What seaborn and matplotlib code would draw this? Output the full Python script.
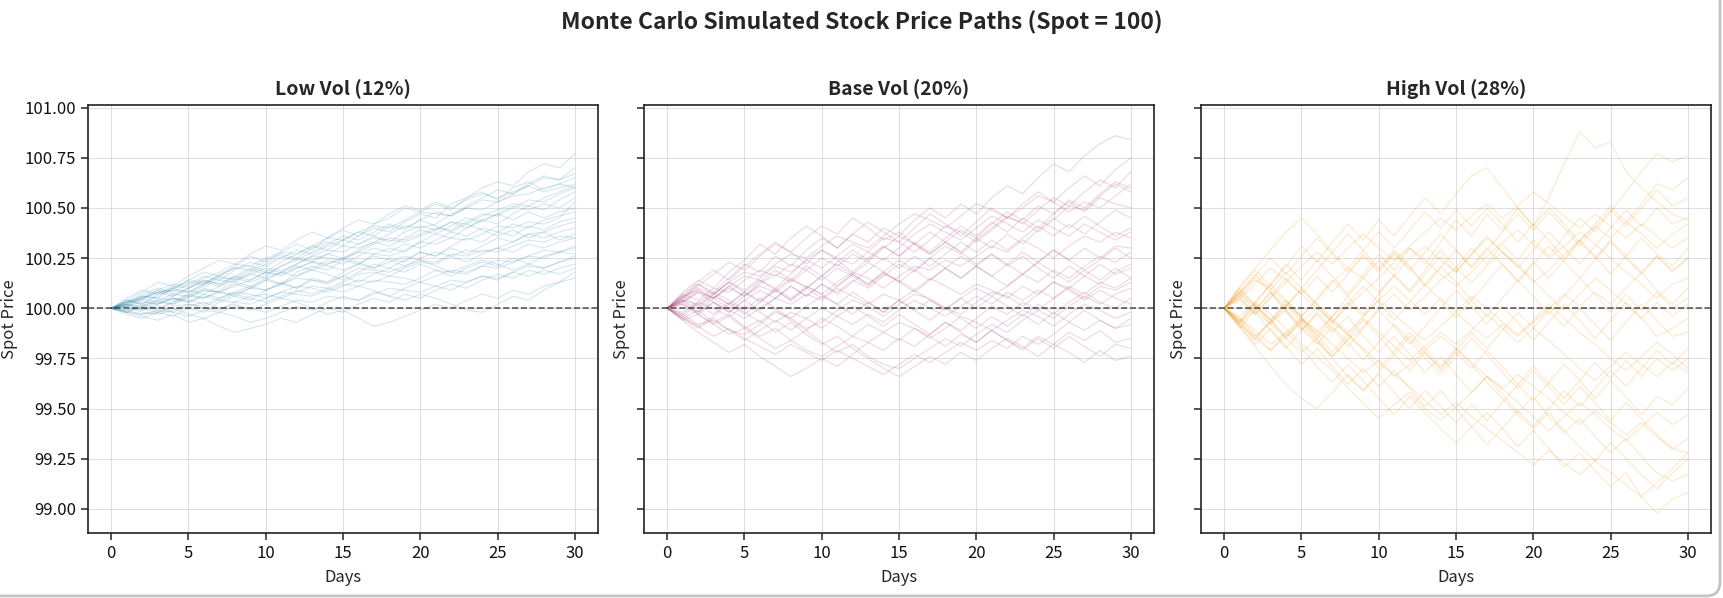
import matplotlib
matplotlib.use("Agg")
import matplotlib.pyplot as plt
from matplotlib.patches import FancyBboxPatch
from matplotlib.transforms import IdentityTransform
import pandas as pd
import seaborn as sns

# ---------------- data ----------------
SPOT = 100.0
DAYS = list(range(31))
PANEL_TITLES = ["Low Vol (12%)", "Base Vol (20%)", "High Vol (28%)"]
SUPTITLE = "Monte Carlo Simulated Stock Price Paths (Spot = 100)"
COLORS = ["#2E86AB", "#A23B72", "#F18F01"]
Y_TICKS = [99.00, 99.25, 99.50, 99.75, 100.00, 100.25, 100.50, 100.75, 101.00]
X_TICKS = [0, 5, 10, 15, 20, 25, 30]

LOW_VOL_PATHS = [
    [100.00, 100.03, 100.06, 100.05, 100.10, 100.13, 100.12, 100.17, 100.20, 100.19, 100.24, 100.27, 100.25, 100.30, 100.33, 100.31, 100.36, 100.40, 100.38, 100.43, 100.47, 100.45, 100.52, 100.55, 100.60, 100.63, 100.61, 100.68, 100.72, 100.70, 100.77],
    [100.00, 100.04, 100.02, 100.07, 100.09, 100.14, 100.18, 100.16, 100.21, 100.26, 100.23, 100.28, 100.32, 100.29, 100.35, 100.39, 100.36, 100.42, 100.45, 100.50, 100.48, 100.52, 100.49, 100.55, 100.58, 100.54, 100.60, 100.63, 100.59, 100.62, 100.65],
    [100.00, 99.98, 100.01, 100.04, 100.02, 100.06, 100.05, 100.09, 100.13, 100.11, 100.15, 100.12, 100.18, 100.21, 100.19, 100.24, 100.22, 100.27, 100.30, 100.28, 100.33, 100.37, 100.35, 100.40, 100.44, 100.42, 100.47, 100.51, 100.49, 100.54, 100.58],
    [100.00, 99.97, 99.95, 99.98, 99.96, 100.00, 99.98, 100.03, 100.06, 100.04, 100.09, 100.12, 100.10, 100.15, 100.13, 100.18, 100.22, 100.20, 100.25, 100.23, 100.28, 100.26, 100.31, 100.35, 100.33, 100.38, 100.36, 100.41, 100.39, 100.43, 100.45],
    [100.00, 99.98, 99.96, 99.94, 99.97, 99.93, 99.95, 99.91, 99.88, 99.90, 99.92, 99.95, 99.93, 99.97, 100.00, 99.98, 100.02, 100.05, 100.03, 100.07, 100.05, 100.09, 100.12, 100.10, 100.14, 100.17, 100.15, 100.19, 100.17, 100.20, 100.22],
    [100.00, 100.02, 99.99, 100.01, 99.98, 100.01, 100.03, 100.00, 100.02, 99.99, 100.02, 100.05, 100.03, 100.00, 99.97, 99.99, 99.95, 99.91, 99.93, 99.96, 99.99, 100.02, 100.00, 100.04, 100.07, 100.05, 100.09, 100.07, 100.11, 100.13, 100.15],
    [100.00, 100.05, 100.09, 100.07, 100.11, 100.10, 100.14, 100.12, 100.16, 100.14, 100.18, 100.16, 100.20, 100.23, 100.21, 100.19, 100.22, 100.26, 100.24, 100.21, 100.25, 100.28, 100.26, 100.23, 100.27, 100.30, 100.28, 100.32, 100.30, 100.33, 100.35],
    [100.00, 100.03, 100.07, 100.10, 100.08, 100.12, 100.16, 100.14, 100.19, 100.23, 100.21, 100.25, 100.29, 100.27, 100.31, 100.34, 100.32, 100.36, 100.33, 100.38, 100.41, 100.39, 100.43, 100.40, 100.44, 100.47, 100.44, 100.48, 100.45, 100.48, 100.50],
    [100.00, 100.01, 100.04, 100.02, 100.05, 100.03, 100.07, 100.05, 100.08, 100.11, 100.09, 100.13, 100.10, 100.14, 100.12, 100.16, 100.13, 100.17, 100.20, 100.18, 100.22, 100.19, 100.16, 100.20, 100.23, 100.21, 100.25, 100.22, 100.26, 100.28, 100.30],
    [100.00, 100.04, 100.08, 100.13, 100.11, 100.16, 100.20, 100.24, 100.22, 100.27, 100.31, 100.29, 100.34, 100.38, 100.35, 100.40, 100.44, 100.42, 100.47, 100.51, 100.49, 100.53, 100.50, 100.54, 100.57, 100.55, 100.58, 100.61, 100.58, 100.60, 100.62],
    [100.00, 99.99, 100.02, 100.00, 100.03, 100.07, 100.05, 100.08, 100.06, 100.10, 100.14, 100.12, 100.16, 100.19, 100.17, 100.14, 100.18, 100.22, 100.20, 100.24, 100.28, 100.26, 100.30, 100.27, 100.31, 100.35, 100.33, 100.37, 100.35, 100.38, 100.40],
    [100.00, 100.02, 100.00, 99.98, 100.00, 99.97, 99.95, 99.98, 99.96, 99.93, 99.95, 99.98, 100.01, 99.99, 100.03, 100.06, 100.04, 100.08, 100.06, 100.10, 100.13, 100.11, 100.09, 100.13, 100.16, 100.14, 100.18, 100.16, 100.19, 100.17, 100.20],
    [100.00, 100.02, 100.05, 100.03, 100.06, 100.09, 100.07, 100.11, 100.15, 100.19, 100.17, 100.21, 100.25, 100.23, 100.27, 100.25, 100.29, 100.33, 100.31, 100.35, 100.39, 100.37, 100.41, 100.45, 100.43, 100.47, 100.51, 100.49, 100.52, 100.50, 100.55],
    [100.00, 100.03, 100.06, 100.09, 100.07, 100.10, 100.13, 100.11, 100.14, 100.17, 100.15, 100.18, 100.21, 100.19, 100.22, 100.25, 100.23, 100.20, 100.23, 100.26, 100.24, 100.21, 100.18, 100.21, 100.24, 100.22, 100.19, 100.22, 100.20, 100.23, 100.25],
    [100.00, 100.02, 100.05, 100.08, 100.06, 100.10, 100.14, 100.12, 100.16, 100.20, 100.18, 100.23, 100.27, 100.31, 100.29, 100.34, 100.38, 100.36, 100.41, 100.39, 100.44, 100.48, 100.46, 100.51, 100.55, 100.59, 100.57, 100.62, 100.66, 100.64, 100.70],
    [100.00, 100.01, 99.99, 100.02, 100.05, 100.03, 100.06, 100.04, 100.07, 100.05, 100.03, 100.06, 100.09, 100.07, 100.10, 100.08, 100.11, 100.09, 100.06, 100.04, 100.07, 100.05, 100.02, 99.99, 99.98, 100.02, 100.06, 100.04, 100.09, 100.13, 100.18],
    [100.00, 99.98, 100.01, 99.99, 100.03, 100.06, 100.10, 100.08, 100.12, 100.10, 100.14, 100.18, 100.16, 100.20, 100.24, 100.22, 100.26, 100.30, 100.28, 100.32, 100.30, 100.34, 100.38, 100.36, 100.40, 100.38, 100.42, 100.40, 100.44, 100.46, 100.48],
    [100.00, 100.04, 100.02, 100.06, 100.10, 100.08, 100.12, 100.16, 100.14, 100.18, 100.22, 100.26, 100.24, 100.28, 100.32, 100.36, 100.34, 100.38, 100.42, 100.40, 100.44, 100.41, 100.38, 100.42, 100.39, 100.36, 100.39, 100.35, 100.38, 100.34, 100.37],
    [100.00, 100.01, 100.05, 100.08, 100.09, 100.08, 100.12, 100.15, 100.15, 100.13, 100.16, 100.21, 100.24, 100.24, 100.27, 100.31, 100.30, 100.33, 100.37, 100.41, 100.40, 100.42, 100.47, 100.50, 100.49, 100.53, 100.56, 100.57, 100.60, 100.62, 100.60],
    [100.00, 99.99, 99.97, 99.98, 100.01, 100.02, 100.00, 99.99, 100.03, 100.06, 100.07, 100.05, 100.08, 100.11, 100.10, 100.13, 100.17, 100.18, 100.16, 100.20, 100.23, 100.22, 100.26, 100.29, 100.28, 100.30, 100.33, 100.37, 100.38, 100.41, 100.43],
    [100.00, 100.03, 100.04, 100.08, 100.10, 100.14, 100.13, 100.16, 100.20, 100.21, 100.19, 100.18, 100.22, 100.26, 100.29, 100.28, 100.32, 100.35, 100.34, 100.33, 100.36, 100.39, 100.43, 100.42, 100.46, 100.49, 100.52, 100.51, 100.55, 100.58, 100.61],
    [100.00, 100.01, 99.98, 99.97, 99.99, 100.02, 100.01, 100.04, 100.03, 100.02, 100.05, 100.08, 100.07, 100.06, 100.09, 100.12, 100.11, 100.14, 100.13, 100.12, 100.15, 100.19, 100.18, 100.17, 100.21, 100.24, 100.23, 100.26, 100.29, 100.28, 100.31],
    [100.00, 100.02, 100.06, 100.05, 100.04, 100.07, 100.11, 100.14, 100.13, 100.17, 100.20, 100.19, 100.22, 100.26, 100.25, 100.24, 100.28, 100.32, 100.35, 100.34, 100.37, 100.40, 100.39, 100.43, 100.47, 100.46, 100.50, 100.54, 100.53, 100.57, 100.60],
    [100.00, 99.99, 100.00, 100.03, 100.02, 100.05, 100.09, 100.08, 100.07, 100.10, 100.09, 100.12, 100.15, 100.14, 100.13, 100.16, 100.20, 100.19, 100.18, 100.21, 100.24, 100.23, 100.27, 100.26, 100.29, 100.28, 100.31, 100.34, 100.33, 100.36, 100.35],
    [100.00, 100.03, 100.05, 100.09, 100.12, 100.11, 100.15, 100.18, 100.22, 100.21, 100.25, 100.28, 100.27, 100.31, 100.35, 100.34, 100.38, 100.41, 100.40, 100.44, 100.48, 100.47, 100.46, 100.50, 100.54, 100.53, 100.57, 100.61, 100.65, 100.64, 100.67],
    [100.00, 99.98, 99.97, 99.99, 99.98, 99.96, 99.99, 99.98, 100.01, 100.00, 99.98, 100.01, 100.04, 100.03, 100.06, 100.05, 100.04, 100.07, 100.10, 100.09, 100.08, 100.11, 100.14, 100.13, 100.16, 100.15, 100.18, 100.21, 100.20, 100.23, 100.26],
    [100.00, 100.02, 100.01, 100.04, 100.07, 100.06, 100.09, 100.08, 100.11, 100.14, 100.18, 100.17, 100.20, 100.23, 100.22, 100.25, 100.28, 100.27, 100.26, 100.29, 100.33, 100.32, 100.35, 100.34, 100.37, 100.41, 100.40, 100.43, 100.42, 100.45, 100.53],
    [100.00, 100.01, 100.03, 100.02, 100.05, 100.04, 100.02, 100.05, 100.08, 100.07, 100.05, 100.08, 100.11, 100.10, 100.08, 100.11, 100.14, 100.13, 100.16, 100.15, 100.13, 100.16, 100.19, 100.18, 100.21, 100.20, 100.23, 100.26, 100.25, 100.28, 100.27],
]

BASE_VOL_PATHS = [
    [100.00, 100.05, 100.12, 100.08, 100.15, 100.22, 100.18, 100.26, 100.21, 100.29, 100.35, 100.30, 100.37, 100.33, 100.40, 100.36, 100.44, 100.50, 100.45, 100.52, 100.47, 100.55, 100.61, 100.57, 100.65, 100.72, 100.68, 100.76, 100.82, 100.86, 100.84],
    [100.00, 100.08, 100.14, 100.10, 100.18, 100.24, 100.32, 100.27, 100.35, 100.41, 100.36, 100.30, 100.37, 100.43, 100.38, 100.33, 100.40, 100.47, 100.42, 100.36, 100.43, 100.50, 100.45, 100.52, 100.58, 100.53, 100.60, 100.66, 100.61, 100.69, 100.75],
    [100.00, 100.04, 99.98, 100.05, 100.11, 100.06, 100.13, 100.19, 100.14, 100.21, 100.16, 100.23, 100.29, 100.24, 100.31, 100.26, 100.33, 100.28, 100.35, 100.41, 100.36, 100.43, 100.38, 100.45, 100.40, 100.47, 100.53, 100.48, 100.55, 100.52, 100.50],
    [100.00, 99.94, 99.88, 99.83, 99.78, 99.82, 99.76, 99.71, 99.66, 99.70, 99.75, 99.71, 99.77, 99.83, 99.79, 99.85, 99.81, 99.87, 99.93, 99.89, 99.95, 100.01, 99.97, 100.03, 99.99, 100.05, 100.11, 100.07, 100.13, 100.10, 100.15],
    [100.00, 100.03, 99.97, 99.92, 99.96, 99.90, 99.94, 99.88, 99.93, 99.87, 99.82, 99.86, 99.80, 99.75, 99.70, 99.66, 99.71, 99.76, 99.72, 99.78, 99.74, 99.80, 99.85, 99.81, 99.76, 99.82, 99.78, 99.73, 99.79, 99.74, 99.76],
    [100.00, 99.96, 100.02, 99.97, 100.03, 99.98, 99.93, 99.99, 99.94, 99.89, 99.95, 99.91, 99.86, 99.92, 99.88, 99.84, 99.90, 99.86, 99.81, 99.87, 99.83, 99.89, 99.84, 99.80, 99.86, 99.82, 99.88, 99.84, 99.89, 99.83, 99.85],
    [100.00, 100.06, 100.01, 100.07, 100.13, 100.08, 100.03, 100.09, 100.15, 100.10, 100.16, 100.11, 100.17, 100.23, 100.18, 100.13, 100.19, 100.14, 100.20, 100.26, 100.21, 100.16, 100.22, 100.28, 100.23, 100.29, 100.24, 100.19, 100.24, 100.30, 100.25],
    [100.00, 99.97, 100.03, 100.08, 100.04, 99.99, 100.05, 100.00, 99.95, 100.01, 100.06, 100.02, 99.97, 100.03, 99.98, 100.04, 100.09, 100.04, 99.99, 100.05, 100.00, 100.06, 100.01, 99.96, 100.02, 99.97, 100.03, 100.08, 100.03, 100.00, 100.05],
    [100.00, 100.07, 100.13, 100.19, 100.14, 100.21, 100.27, 100.33, 100.28, 100.22, 100.29, 100.24, 100.18, 100.25, 100.31, 100.26, 100.32, 100.38, 100.33, 100.28, 100.35, 100.30, 100.37, 100.32, 100.39, 100.45, 100.40, 100.46, 100.41, 100.36, 100.40],
    [100.00, 99.95, 99.99, 99.93, 99.97, 99.91, 99.86, 99.90, 99.84, 99.89, 99.83, 99.78, 99.82, 99.76, 99.72, 99.70, 99.75, 99.80, 99.85, 99.81, 99.87, 99.92, 99.88, 99.94, 99.99, 99.95, 100.01, 100.06, 100.02, 100.07, 100.10],
    [100.00, 100.04, 100.09, 100.05, 100.10, 100.06, 100.12, 100.17, 100.13, 100.19, 100.25, 100.21, 100.27, 100.23, 100.30, 100.36, 100.32, 100.27, 100.33, 100.39, 100.35, 100.42, 100.48, 100.44, 100.51, 100.47, 100.54, 100.50, 100.57, 100.63, 100.60],
    [100.00, 100.05, 100.11, 100.17, 100.23, 100.19, 100.26, 100.32, 100.28, 100.35, 100.41, 100.37, 100.45, 100.40, 100.34, 100.38, 100.32, 100.27, 100.33, 100.28, 100.22, 100.27, 100.21, 100.26, 100.20, 100.15, 100.21, 100.16, 100.22, 100.17, 100.20],
    [100.00, 100.04, 100.00, 100.06, 100.02, 100.08, 100.04, 100.10, 100.05, 100.11, 100.07, 100.02, 100.08, 100.03, 99.98, 100.04, 99.99, 99.94, 100.00, 99.95, 99.90, 99.96, 99.91, 99.97, 99.92, 99.98, 99.93, 99.99, 99.94, 99.90, 99.95],
    [100.00, 99.96, 99.91, 99.96, 100.02, 99.97, 100.03, 100.09, 100.04, 100.10, 100.05, 100.11, 100.17, 100.12, 100.18, 100.24, 100.19, 100.25, 100.20, 100.15, 100.21, 100.27, 100.22, 100.17, 100.23, 100.29, 100.24, 100.30, 100.25, 100.31, 100.30],
    [100.00, 100.02, 99.97, 100.03, 99.98, 100.04, 100.09, 100.05, 100.11, 100.06, 100.12, 100.08, 100.14, 100.10, 100.16, 100.22, 100.18, 100.25, 100.31, 100.27, 100.34, 100.40, 100.46, 100.42, 100.49, 100.55, 100.51, 100.58, 100.64, 100.60, 100.68],
    [100.00, 99.95, 99.90, 99.95, 99.89, 99.84, 99.89, 99.94, 99.89, 99.95, 99.90, 99.96, 100.01, 99.96, 99.91, 99.97, 99.92, 99.87, 99.93, 99.88, 99.83, 99.89, 99.84, 99.79, 99.85, 99.80, 99.86, 99.81, 99.76, 99.82, 99.80],
    [100.00, 100.06, 100.12, 100.07, 100.02, 100.08, 100.14, 100.09, 100.04, 100.10, 100.16, 100.22, 100.17, 100.12, 100.18, 100.13, 100.08, 100.14, 100.20, 100.15, 100.21, 100.16, 100.11, 100.17, 100.23, 100.18, 100.13, 100.19, 100.14, 100.20, 100.15],
    [100.00, 100.03, 100.08, 100.03, 99.98, 100.04, 99.99, 100.05, 100.11, 100.06, 100.12, 100.07, 100.13, 100.19, 100.25, 100.20, 100.26, 100.21, 100.27, 100.33, 100.28, 100.34, 100.29, 100.35, 100.41, 100.36, 100.42, 100.37, 100.43, 100.49, 100.45],
    [100.00, 100.06, 100.09, 100.05, 100.11, 100.16, 100.14, 100.10, 100.17, 100.24, 100.29, 100.25, 100.22, 100.28, 100.35, 100.33, 100.28, 100.34, 100.41, 100.38, 100.33, 100.39, 100.45, 100.43, 100.38, 100.44, 100.51, 100.49, 100.56, 100.62, 100.58],
    [100.00, 99.97, 99.92, 99.94, 99.89, 99.87, 99.92, 99.98, 99.95, 99.90, 99.93, 99.99, 100.04, 100.01, 99.96, 100.02, 100.07, 100.05, 100.00, 99.97, 100.03, 100.08, 100.06, 100.01, 100.07, 100.13, 100.10, 100.05, 100.11, 100.09, 100.13],
    [100.00, 100.04, 100.02, 100.07, 100.13, 100.18, 100.16, 100.22, 100.27, 100.25, 100.31, 100.36, 100.33, 100.30, 100.36, 100.42, 100.47, 100.44, 100.40, 100.46, 100.52, 100.49, 100.45, 100.50, 100.56, 100.53, 100.48, 100.53, 100.50, 100.56, 100.62],
    [100.00, 99.94, 99.97, 99.92, 99.87, 99.90, 99.85, 99.80, 99.84, 99.79, 99.76, 99.81, 99.86, 99.83, 99.88, 99.93, 99.90, 99.85, 99.90, 99.96, 99.93, 99.89, 99.94, 99.99, 99.96, 99.91, 99.97, 100.02, 99.99, 99.95, 99.98],
    [100.00, 100.03, 100.08, 100.05, 100.00, 100.06, 100.11, 100.08, 100.14, 100.11, 100.07, 100.13, 100.18, 100.15, 100.10, 100.16, 100.21, 100.19, 100.24, 100.21, 100.26, 100.31, 100.28, 100.34, 100.30, 100.25, 100.31, 100.36, 100.33, 100.38, 100.35],
    [100.00, 99.98, 100.03, 100.00, 99.96, 100.01, 99.98, 99.93, 99.98, 99.95, 100.00, 99.96, 99.92, 99.97, 99.93, 99.99, 100.04, 100.00, 99.96, 100.01, 100.06, 100.02, 100.08, 100.04, 100.09, 100.05, 100.10, 100.16, 100.12, 100.18, 100.22],
    [100.00, 100.07, 100.04, 100.10, 100.08, 100.14, 100.19, 100.16, 100.22, 100.19, 100.14, 100.20, 100.16, 100.11, 100.17, 100.14, 100.09, 100.15, 100.11, 100.07, 100.12, 100.09, 100.05, 100.11, 100.07, 100.13, 100.09, 100.04, 100.09, 100.05, 100.02],
    [100.00, 99.95, 99.91, 99.86, 99.90, 99.85, 99.81, 99.77, 99.82, 99.78, 99.74, 99.79, 99.75, 99.71, 99.67, 99.72, 99.77, 99.73, 99.78, 99.83, 99.79, 99.84, 99.80, 99.86, 99.82, 99.87, 99.93, 99.89, 99.94, 99.90, 99.92],
    [100.00, 100.05, 100.10, 100.07, 100.13, 100.09, 100.15, 100.21, 100.18, 100.24, 100.20, 100.26, 100.32, 100.28, 100.24, 100.30, 100.37, 100.42, 100.38, 100.34, 100.40, 100.46, 100.42, 100.38, 100.44, 100.40, 100.36, 100.42, 100.38, 100.34, 100.38],
    [100.00, 100.02, 99.98, 100.03, 99.99, 99.95, 100.00, 100.05, 100.02, 100.07, 100.04, 100.10, 100.06, 100.02, 100.07, 100.04, 99.99, 100.04, 100.00, 100.05, 100.10, 100.06, 100.11, 100.17, 100.13, 100.19, 100.15, 100.21, 100.26, 100.23, 100.28],
]

HIGH_VOL_PATHS = [
    [100.00, 100.09, 100.02, 100.12, 100.22, 100.14, 100.24, 100.16, 100.07, 100.17, 100.27, 100.19, 100.30, 100.22, 100.33, 100.44, 100.36, 100.47, 100.39, 100.50, 100.41, 100.55, 100.72, 100.88, 100.80, 100.83, 100.68, 100.60, 100.53, 100.47, 100.44],
    [100.00, 99.92, 100.02, 99.94, 100.04, 99.95, 99.86, 99.96, 100.06, 99.97, 100.07, 100.17, 100.09, 100.19, 100.29, 100.20, 100.30, 100.22, 100.32, 100.24, 100.34, 100.26, 100.36, 100.45, 100.38, 100.48, 100.58, 100.68, 100.77, 100.73, 100.76],
    [100.00, 100.10, 100.19, 100.11, 100.21, 100.31, 100.23, 100.33, 100.42, 100.34, 100.44, 100.36, 100.46, 100.55, 100.47, 100.57, 100.66, 100.70, 100.60, 100.50, 100.41, 100.50, 100.42, 100.33, 100.42, 100.51, 100.43, 100.52, 100.62, 100.59, 100.65],
    [100.00, 99.91, 99.82, 99.90, 99.81, 99.72, 99.80, 99.71, 99.62, 99.70, 99.61, 99.69, 99.60, 99.51, 99.59, 99.50, 99.41, 99.48, 99.40, 99.31, 99.39, 99.30, 99.21, 99.28, 99.19, 99.11, 99.18, 99.06, 98.98, 99.05, 99.08],
    [100.00, 100.08, 99.99, 100.08, 99.98, 99.89, 99.97, 99.88, 99.96, 99.86, 99.78, 99.86, 99.77, 99.68, 99.76, 99.67, 99.58, 99.66, 99.57, 99.48, 99.56, 99.46, 99.38, 99.45, 99.36, 99.28, 99.35, 99.26, 99.18, 99.14, 99.17],
    [100.00, 99.91, 99.81, 99.71, 99.62, 99.55, 99.50, 99.58, 99.67, 99.59, 99.68, 99.77, 99.69, 99.78, 99.70, 99.79, 99.88, 99.80, 99.89, 99.98, 99.90, 99.99, 99.91, 100.00, 99.92, 99.84, 99.93, 100.02, 99.94, 99.86, 99.88],
    [100.00, 100.07, 100.16, 100.25, 100.17, 100.26, 100.35, 100.27, 100.18, 100.27, 100.19, 100.28, 100.20, 100.11, 100.20, 100.29, 100.21, 100.30, 100.22, 100.13, 100.22, 100.31, 100.23, 100.15, 100.24, 100.33, 100.25, 100.17, 100.26, 100.18, 100.25],
    [100.00, 99.93, 100.02, 99.94, 99.85, 99.94, 99.85, 99.76, 99.85, 99.94, 99.86, 99.77, 99.86, 99.78, 99.69, 99.78, 99.70, 99.79, 99.71, 99.62, 99.71, 99.63, 99.72, 99.64, 99.55, 99.64, 99.56, 99.47, 99.56, 99.52, 99.60],
    [100.00, 100.10, 100.01, 99.92, 100.01, 100.10, 100.02, 99.93, 100.02, 100.11, 100.03, 99.94, 100.03, 100.12, 100.04, 99.95, 100.04, 99.96, 100.05, 100.14, 100.06, 99.97, 100.06, 100.15, 100.07, 99.98, 100.07, 99.99, 100.08, 100.00, 100.05],
    [100.00, 99.94, 100.03, 100.12, 100.04, 99.96, 100.05, 100.14, 100.06, 100.15, 100.24, 100.16, 100.08, 100.17, 100.26, 100.18, 100.27, 100.36, 100.28, 100.20, 100.29, 100.38, 100.30, 100.22, 100.31, 100.40, 100.49, 100.41, 100.50, 100.42, 100.45],
    [100.00, 99.95, 99.87, 99.79, 99.88, 99.80, 99.71, 99.63, 99.72, 99.64, 99.55, 99.47, 99.56, 99.48, 99.40, 99.33, 99.41, 99.32, 99.40, 99.49, 99.41, 99.50, 99.59, 99.51, 99.60, 99.69, 99.61, 99.70, 99.79, 99.72, 99.80],
    [100.00, 99.90, 99.99, 100.08, 99.99, 99.90, 99.82, 99.91, 99.83, 99.74, 99.83, 99.92, 99.84, 99.75, 99.67, 99.76, 99.85, 99.77, 99.68, 99.60, 99.69, 99.61, 99.52, 99.61, 99.53, 99.44, 99.53, 99.45, 99.37, 99.30, 99.35],
    [100.00, 100.11, 100.20, 100.29, 100.38, 100.45, 100.37, 100.28, 100.37, 100.29, 100.20, 100.29, 100.21, 100.12, 100.21, 100.13, 100.04, 100.13, 100.22, 100.14, 100.23, 100.15, 100.24, 100.33, 100.25, 100.34, 100.26, 100.35, 100.27, 100.21, 100.30],
    [100.00, 99.92, 99.84, 99.93, 100.02, 99.93, 99.84, 99.75, 99.66, 99.59, 99.67, 99.58, 99.50, 99.59, 99.51, 99.43, 99.52, 99.44, 99.53, 99.62, 99.54, 99.63, 99.55, 99.64, 99.73, 99.65, 99.74, 99.66, 99.75, 99.69, 99.75],
    [100.00, 100.08, 100.17, 100.09, 100.18, 100.10, 100.19, 100.28, 100.20, 100.29, 100.38, 100.30, 100.39, 100.48, 100.40, 100.49, 100.41, 100.50, 100.42, 100.33, 100.42, 100.34, 100.25, 100.34, 100.26, 100.17, 100.26, 100.18, 100.09, 100.02, 100.10],
    [100.00, 99.93, 99.85, 99.94, 99.86, 99.95, 99.87, 99.78, 99.87, 99.79, 99.70, 99.79, 99.88, 99.80, 99.71, 99.80, 99.72, 99.63, 99.55, 99.47, 99.40, 99.48, 99.39, 99.31, 99.24, 99.33, 99.25, 99.17, 99.10, 99.18, 99.25],
    [100.00, 100.06, 99.98, 99.89, 99.80, 99.89, 99.98, 99.90, 99.81, 99.90, 99.99, 99.91, 99.82, 99.91, 100.00, 100.09, 100.01, 99.92, 100.01, 99.93, 99.84, 99.93, 100.02, 99.94, 99.85, 99.94, 100.03, 99.95, 99.86, 99.90, 99.95],
    [100.00, 100.05, 99.97, 100.06, 100.15, 100.07, 100.16, 100.08, 100.17, 100.26, 100.18, 100.27, 100.19, 100.28, 100.37, 100.29, 100.20, 100.29, 100.38, 100.47, 100.39, 100.48, 100.40, 100.31, 100.40, 100.49, 100.41, 100.50, 100.59, 100.51, 100.55],
    [100.00, 100.06, 100.14, 100.10, 100.03, 99.96, 100.04, 100.13, 100.20, 100.15, 100.08, 100.16, 100.25, 100.31, 100.24, 100.18, 100.27, 100.35, 100.28, 100.22, 100.14, 100.06, 99.99, 100.07, 100.15, 100.09, 100.02, 99.95, 100.03, 99.96, 100.02],
    [100.00, 99.94, 99.86, 99.93, 99.99, 99.91, 99.83, 99.76, 99.84, 99.91, 100.00, 100.07, 99.99, 100.06, 100.14, 100.20, 100.13, 100.21, 100.28, 100.21, 100.13, 100.19, 100.27, 100.34, 100.41, 100.35, 100.43, 100.37, 100.30, 100.37, 100.42],
    [100.00, 99.96, 100.03, 99.97, 99.90, 99.82, 99.76, 99.69, 99.60, 99.53, 99.45, 99.52, 99.58, 99.50, 99.44, 99.51, 99.58, 99.66, 99.60, 99.53, 99.46, 99.39, 99.46, 99.53, 99.47, 99.40, 99.34, 99.41, 99.48, 99.42, 99.47],
    [100.00, 100.05, 100.12, 100.20, 100.14, 100.07, 100.00, 99.93, 100.01, 100.08, 100.15, 100.23, 100.30, 100.24, 100.17, 100.11, 100.18, 100.26, 100.33, 100.39, 100.32, 100.25, 100.31, 100.38, 100.32, 100.25, 100.18, 100.12, 100.05, 100.12, 100.15],
    [100.00, 99.93, 99.99, 99.92, 99.85, 99.78, 99.85, 99.93, 99.87, 99.80, 99.73, 99.66, 99.72, 99.79, 99.86, 99.80, 99.73, 99.66, 99.60, 99.67, 99.61, 99.55, 99.48, 99.42, 99.49, 99.43, 99.37, 99.43, 99.36, 99.30, 99.28],
    [100.00, 100.08, 100.15, 100.08, 100.01, 100.09, 100.02, 99.95, 99.88, 99.96, 100.04, 99.97, 99.90, 99.84, 99.91, 99.98, 100.06, 100.00, 99.93, 99.87, 99.94, 100.02, 99.95, 99.88, 99.82, 99.75, 99.69, 99.76, 99.83, 99.77, 99.70],
    [100.00, 100.04, 99.97, 100.05, 100.13, 100.21, 100.28, 100.22, 100.30, 100.37, 100.30, 100.24, 100.31, 100.38, 100.45, 100.39, 100.46, 100.52, 100.45, 100.51, 100.58, 100.52, 100.46, 100.40, 100.47, 100.41, 100.35, 100.42, 100.36, 100.30, 100.35],
    [100.00, 99.95, 99.89, 99.82, 99.88, 99.95, 99.89, 99.82, 99.75, 99.68, 99.74, 99.67, 99.61, 99.54, 99.47, 99.53, 99.46, 99.40, 99.34, 99.28, 99.22, 99.29, 99.23, 99.17, 99.24, 99.18, 99.12, 99.06, 99.13, 99.20, 99.28],
    [100.00, 100.07, 100.01, 99.94, 100.02, 99.95, 99.88, 99.96, 100.03, 99.96, 100.04, 100.11, 100.04, 99.97, 100.05, 99.98, 99.91, 99.85, 99.92, 99.86, 99.93, 100.00, 100.07, 100.01, 100.08, 100.02, 100.10, 100.18, 100.26, 100.19, 100.25],
    [100.00, 99.92, 99.85, 99.79, 99.86, 99.93, 100.00, 99.94, 99.87, 99.95, 99.88, 99.81, 99.74, 99.81, 99.88, 99.82, 99.89, 99.97, 99.90, 99.83, 99.90, 99.84, 99.77, 99.70, 99.64, 99.71, 99.78, 99.72, 99.66, 99.73, 99.68],
]

PANEL_PATHS = [LOW_VOL_PATHS, BASE_VOL_PATHS, HIGH_VOL_PATHS]


def to_long(paths):
    rows = []
    for pid, path in enumerate(paths):
        for day, price in zip(DAYS, path):
            rows.append((pid, day, price))
    return pd.DataFrame(rows, columns=["path", "day", "price"])


# ---------------- styling ----------------
sns.set_theme(style="ticks")
plt.rcParams["font.family"] = ["Noto Sans CJK SC", "DejaVu Sans"]
plt.rcParams["axes.unicode_minus"] = False

W, H = 1724, 598
fig = plt.figure(figsize=(W / 100, H / 100), dpi=100)
fig.patch.set_facecolor("white")

# screenshot card frame (right and bottom edges visible in the reference)
frame = FancyBboxPatch((-40, 2), 1720 + 40, 700, boxstyle="round,pad=0,rounding_size=14",
                       transform=IdentityTransform(), facecolor="none",
                       edgecolor="#c4c4c4", linewidth=2.0, zorder=0)
fig.patches.append(frame)

ax_w = 510 / W
ax_b = (H - 533) / H
ax_h = (533 - 105) / H
lefts = [88 / W, 644 / W, 1201 / W]

axes = []
for i, left in enumerate(lefts):
    if i == 0:
        ax = fig.add_axes([left, ax_b, ax_w, ax_h])
    else:
        ax = fig.add_axes([left, ax_b, ax_w, ax_h], sharey=axes[0])
    axes.append(ax)

for i, ax in enumerate(axes):
    df = to_long(PANEL_PATHS[i])
    sns.lineplot(data=df, x="day", y="price", units="path", estimator=None,
                 color=COLORS[i], alpha=0.2, linewidth=0.8, legend=False,
                 ax=ax, zorder=2)
    ax.axhline(SPOT, color="#333333", linestyle="--", linewidth=1.2,
               alpha=0.8, zorder=3)
    ax.set_title(PANEL_TITLES[i], fontsize=14, fontweight="bold", pad=7)
    ax.set_xlabel("Days", fontsize=12, labelpad=5)
    ax.set_ylabel("Spot Price", fontsize=12, labelpad=5)
    ax.set_xticks(X_TICKS)
    ax.set_yticks(Y_TICKS)
    ax.set_yticklabels([f"{v:.2f}" for v in Y_TICKS])
    ax.set_xlim(-1.5, 31.5)
    ax.set_ylim(98.88, 101.013)
    ax.grid(True, color="#cccccc", alpha=0.6, linewidth=0.8, zorder=0)
    ax.set_axisbelow(True)
    for sp in ax.spines.values():
        sp.set_visible(True)
        sp.set_color("#222222")
        sp.set_linewidth(1.2)
    ax.tick_params(axis="both", labelsize=12, length=5, width=1.1,
                   color="#222222", labelcolor="#111111")
    if i > 0:
        ax.tick_params(axis="y", labelleft=False)

fig.suptitle(SUPTITLE, fontsize=16.5, fontweight="bold", y=0.963, va="center")

fig.savefig("out.png", dpi=100, facecolor="white")
